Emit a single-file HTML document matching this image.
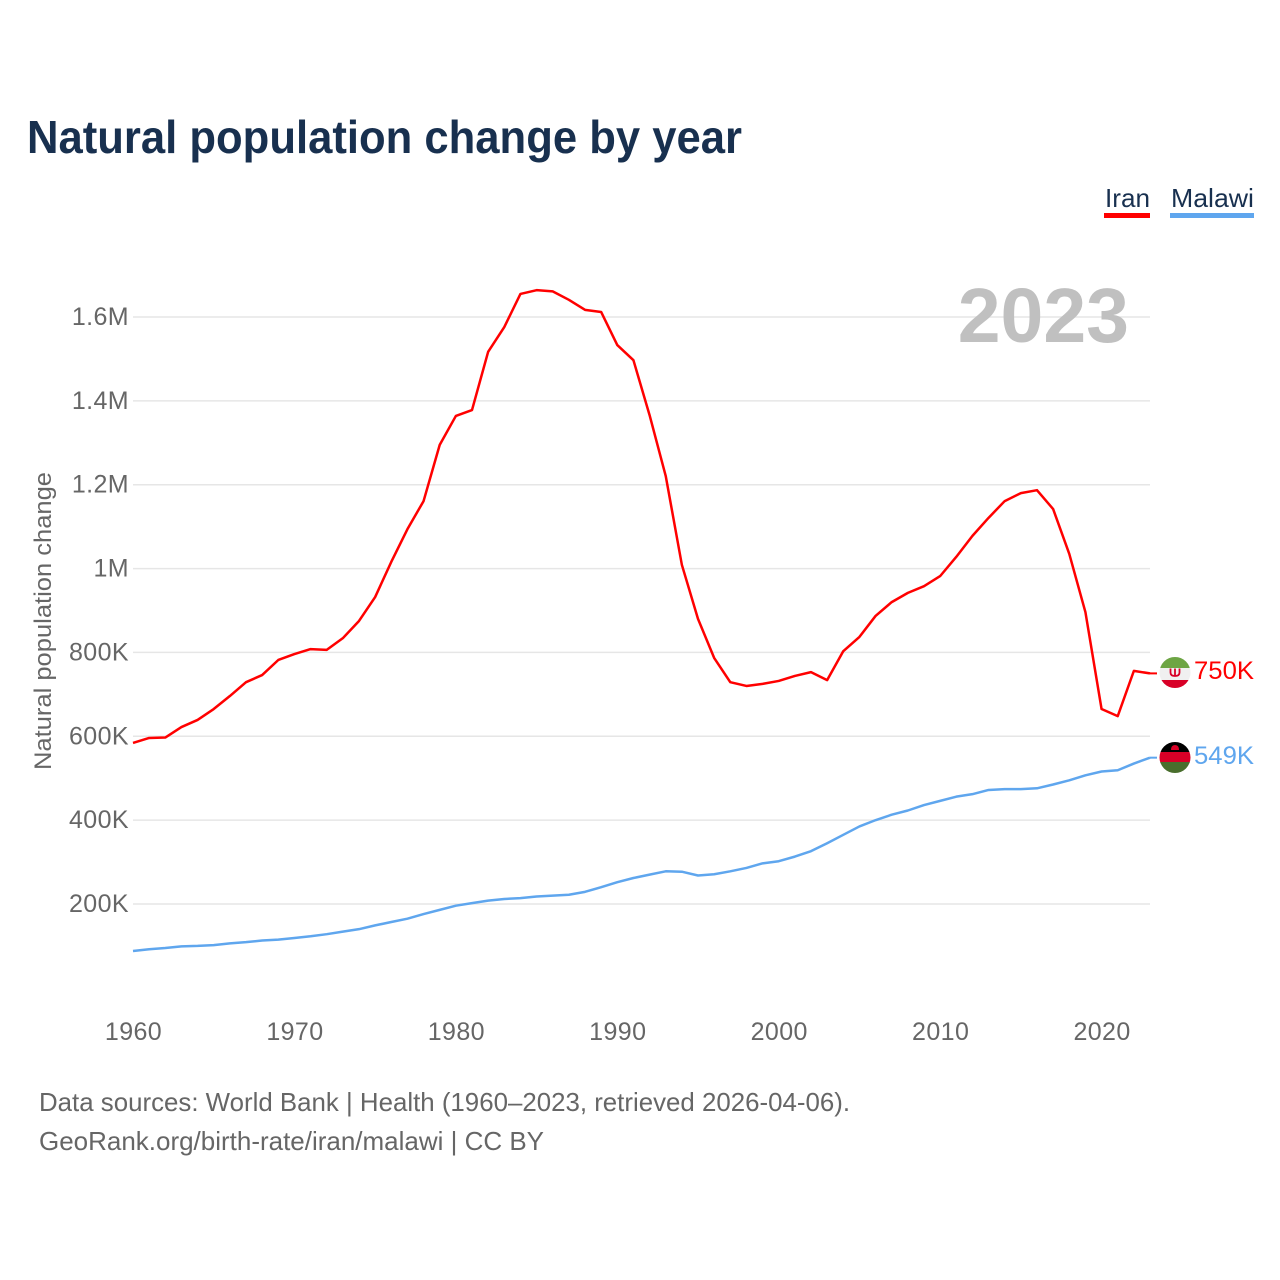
<!DOCTYPE html>
<html lang="en">
<head>
<meta charset="utf-8">
<title>Natural population change by year</title>
<style>
html,body{margin:0;padding:0;background:#fff;}
svg{display:block;font-family:"Liberation Sans",sans-serif;}
</style>
</head>
<body>
<svg id="chart" xmlns="http://www.w3.org/2000/svg" width="1280" height="1280" viewBox="0 0 1280 1280">
  <rect width="1280" height="1280" fill="#fff"/>
  <text x="27" y="153" font-size="46" font-weight="700" fill="#18304f" textLength="715" lengthAdjust="spacingAndGlyphs">Natural population change by year</text>
  <g id="grid"></g>
  <text x="1129" y="342" text-anchor="end" font-size="77" font-weight="700" fill="#c0c0c0">2023</text>
  <g id="yticks"></g>
  <g id="xticks"></g>
  <text transform="translate(51,770) rotate(-90)" font-size="24" fill="#666" textLength="298" lengthAdjust="spacingAndGlyphs">Natural population change</text>
  <g id="series"></g>

  <g>
    <text x="1105" y="207" font-size="26" fill="#18304f" textLength="45" lengthAdjust="spacingAndGlyphs">Iran</text>
    <rect x="1104" y="213" width="46" height="5" fill="#ff0000"/>
  </g>
  <g>
    <text x="1171" y="207" font-size="26" fill="#18304f" textLength="83" lengthAdjust="spacingAndGlyphs">Malawi</text>
    <rect x="1170" y="213" width="84" height="5" fill="#5fa6ee"/>
  </g>

  <defs>
    <clipPath id="flag-clip-iran"><circle cx="1175" cy="672.5" r="15.5"/></clipPath>
    <clipPath id="flag-clip-malawi"><circle cx="1175" cy="757.5" r="15.5"/></clipPath>
  </defs>
  <g clip-path="url(#flag-clip-iran)">
    <rect x="1159" y="657" width="32" height="32" fill="#f0f0f0"/>
    <rect x="1159" y="657" width="32" height="11" fill="#6da544"/>
    <rect x="1159" y="680" width="32" height="9" fill="#d80027"/>
    <path d="M1170.500 668.500v4q0 3.500 4.500 3.500t4.500-3.500v-4M1175 668.500v8" fill="none" stroke="#d80027" stroke-width="1.800"/>
  </g>
  <g clip-path="url(#flag-clip-malawi)">
    <rect x="1159" y="742" width="32" height="10.500" fill="#000"/>
    <rect x="1159" y="752" width="32" height="10.500" fill="#d80027"/>
    <rect x="1159" y="762" width="32" height="12" fill="#496e2d"/>
    <path d="M1171 750q0-5 4-5t4 5z" fill="#d80027"/>
  </g>

  <text x="1194" y="679" font-size="25" fill="#ff0000" textLength="60" lengthAdjust="spacingAndGlyphs">750K</text>
  <text x="1194" y="764" font-size="25" fill="#5fa6ee" textLength="60" lengthAdjust="spacingAndGlyphs">549K</text>

  <text x="39" y="1111" font-size="26" fill="#666" textLength="811" lengthAdjust="spacingAndGlyphs">Data sources: World Bank | Health (1960–2023, retrieved 2026-04-06).</text>
  <text x="39" y="1150" font-size="26" fill="#666" textLength="505" lengthAdjust="spacingAndGlyphs">GeoRank.org/birth-rate/iran/malawi | CC BY</text>
</svg>
<script>
const firstYear = 1960;
const xTickYears = [1960, 1970, 1980, 1990, 2000, 2010, 2020];
const yTickValues = [200, 400, 600, 800, 1000, 1200, 1400, 1600];
const yTickLabels = ['200K', '400K', '600K', '800K', '1M', '1.2M', '1.4M', '1.6M'];
const iranValues = [584, 596, 597, 622, 639, 665, 696, 729, 746, 782, 796, 808, 806, 834, 875, 932, 1016, 1094, 1161, 1295, 1364, 1378, 1517, 1576, 1655, 1664, 1661, 1641, 1617, 1612, 1533, 1497, 1366, 1221, 1009, 880, 787, 729, 720, 725, 732, 744, 753, 734, 803, 837, 887, 920, 942, 958, 982, 1028, 1078, 1121, 1161, 1180, 1187, 1142, 1035, 896, 665, 648, 756, 750];
const malawiValues = [88, 92, 95, 99, 100, 102, 106, 109, 113, 115, 119, 123, 128, 134, 140, 149, 157, 165, 176, 186, 196, 202, 208, 212, 214, 218, 220, 222, 229, 240, 252, 262, 270, 278, 277, 268, 271, 278, 286, 297, 302, 313, 326, 345, 365, 385, 400, 413, 423, 436, 446, 456, 462, 472, 474, 474, 476, 485, 495, 507, 516, 519, 535, 549];

const SVG_NS = 'http://www.w3.org/2000/svg';
function xScale(year) { return 133 + (year - 1960) * (1150 - 133) / 63; }
function yScale(value) { return 904 - (value - 200) * (904 - 317) / 1400; }
function make(tag, attrs, parent) {
  const el = document.createElementNS(SVG_NS, tag);
  for (const k in attrs) el.setAttribute(k, attrs[k]);
  parent.appendChild(el);
  return el;
}
const gridGroup = document.getElementById('grid');
const yGroup = document.getElementById('yticks');
const xGroup = document.getElementById('xticks');
const seriesGroup = document.getElementById('series');

yTickValues.forEach(function (value, i) {
  const line = make('line', { x1: 133, x2: 1150, y1: yScale(value), y2: yScale(value), stroke: '#e6e6e6', 'stroke-width': 1.5 }, gridGroup);
  
  
  const label = make('text', { x: 129, y: yScale(value) + 8, 'text-anchor': 'end', 'font-size': 25, 'letter-spacing': 0.4, fill: '#666' }, yGroup);
  label.textContent = yTickLabels[i];
  
  
});

xTickYears.forEach(function (year) {
  const label = make('text', { x: xScale(year) + 0.5, y: 1040, 'text-anchor': 'middle', 'font-size': 25, 'letter-spacing': 0.4, fill: '#666' }, xGroup);
  label.textContent = String(year);
  
  
});

function pathFor(values) {
  return values.map(function (v, i) {
    return (i ? 'L' : 'M') + xScale(firstYear + i).toFixed(2) + ' ' + yScale(v).toFixed(2);
  }).join('');
}
function connectorFor(values) {
  const last = values[values.length - 1];
  return 'M1150 ' + yScale(last).toFixed(2) + 'L1157 ' + yScale(last).toFixed(2);
}

const iranLine = make('path', { d: pathFor(iranValues), fill: 'none', stroke: '#ff0000', 'stroke-width': 2.5, 'stroke-linejoin': 'round' }, seriesGroup);


const iranConnector = make('path', { d: connectorFor(iranValues), fill: 'none', stroke: '#ff0000', 'stroke-width': 2 }, seriesGroup);



const malawiLine = make('path', { d: pathFor(malawiValues), fill: 'none', stroke: '#5fa6ee', 'stroke-width': 2.5, 'stroke-linejoin': 'round' }, seriesGroup);


const malawiConnector = make('path', { d: connectorFor(malawiValues), fill: 'none', stroke: '#5fa6ee', 'stroke-width': 2 }, seriesGroup);


</script>
</body>
</html>
